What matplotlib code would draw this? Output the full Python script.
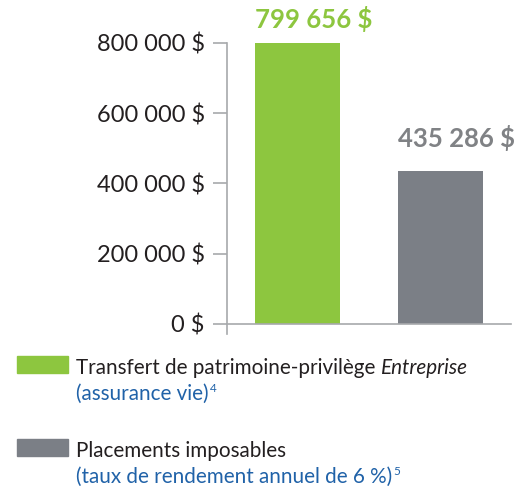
import matplotlib
matplotlib.use("Agg")
import matplotlib.pyplot as plt

# ---- data ----
categories = ["Transfert de patrimoine-privilège Entreprise (assurance vie)",
              "Placements imposables (taux de rendement annuel de 6 %)"]
values = [799656, 435286]
value_labels = ["799 656 $", "435 286 $"]
yticks = [0, 200000, 400000, 600000, 800000]
ytick_labels = ["0 $", "200 000 $", "400 000 $", "600 000 $", "800 000 $"]
legend_main = ["Transfert de patrimoine-privilège ", "Placements imposables"]
legend_italic = ["Entreprise", ""]
legend_sub = ["(assurance vie)", "(taux de rendement annuel de 6 %)"]
legend_sup = ["4", "5"]

# ---- style ----
bar_colors = ["#8dc63f", "#7b7f86"]
label_colors = ["#8dc63f", "#808285"]
label_offsets_px = [15, 24]
text_dark = "#231f20"
blue = "#2062a8"
axis_col = "#a7a9ac"

FAM = ["Lato", "DejaVu Sans"]
plt.rcParams["font.family"] = FAM

W, H = 527, 486
fig = plt.figure(figsize=(W / 100, H / 100), dpi=100)

def fx(px):
    return px / W

def fy(py):
    return 1 - py / H

ax = fig.add_axes([fx(227), fy(334), fx(511) - fx(227), fy(42.7) - fy(334)])
x = list(range(len(values)))
ax.bar(x, values, width=0.596, color=bar_colors, zorder=2)
ax.set_xlim(-0.494, 1.496)
ax.set_ylim(-28500, 800000)
ax.set_yticks(yticks)
ax.set_yticklabels(ytick_labels, fontsize=17, color=text_dark)
ax.set_xticks([])
for s in ["top", "right"]:
    ax.spines[s].set_visible(False)
ax.spines["left"].set_color(axis_col)
ax.spines["left"].set_linewidth(1.2)
ax.spines["bottom"].set_position(("data", 0))
ax.spines["bottom"].set_color(axis_col)
ax.spines["bottom"].set_linewidth(1.2)
ax.tick_params(axis="y", length=10, width=1.2, color=axis_col, pad=6)

for i, (v, lab) in enumerate(zip(values, value_labels)):
    ax.annotate(lab, xy=(x[i] - 0.298, v), xytext=(0, label_offsets_px[i] * 0.72),
                textcoords="offset points", ha="left", va="baseline",
                fontsize=18.5, fontweight="bold", color=label_colors[i])

# ---- legend ----
fig.canvas.draw()
r = fig.canvas.get_renderer()
sq_tops = [356, 439]
LFS = 14.9
for i in range(2):
    top = sq_tops[i]
    fig.patches.append(plt.Rectangle((fx(16.7), fy(top + 17)), fx(68.3) - fx(16.7),
                                     fy(top) - fy(top + 17), transform=fig.transFigure,
                                     color=bar_colors[i]))
    base1 = top + 18
    t1 = fig.text(fx(76), fy(base1), legend_main[i], fontsize=LFS, color=text_dark,
                  va="baseline", ha="left")
    if legend_italic[i]:
        bb = t1.get_window_extent(r)
        fig.text(bb.x1 / W, fy(base1), legend_italic[i], fontsize=LFS, color=text_dark,
                 va="baseline", ha="left", style="italic")
    base2 = base1 + 26
    t2 = fig.text(fx(76), fy(base2), legend_sub[i], fontsize=LFS, color=blue,
                  va="baseline", ha="left")
    bb2 = t2.get_window_extent(r)
    fig.text(bb2.x1 / W + fx(1), fy(base2 - 8), legend_sup[i], fontsize=8.5, color=blue,
             va="baseline", ha="left")

fig.savefig("out.png", dpi=100)
